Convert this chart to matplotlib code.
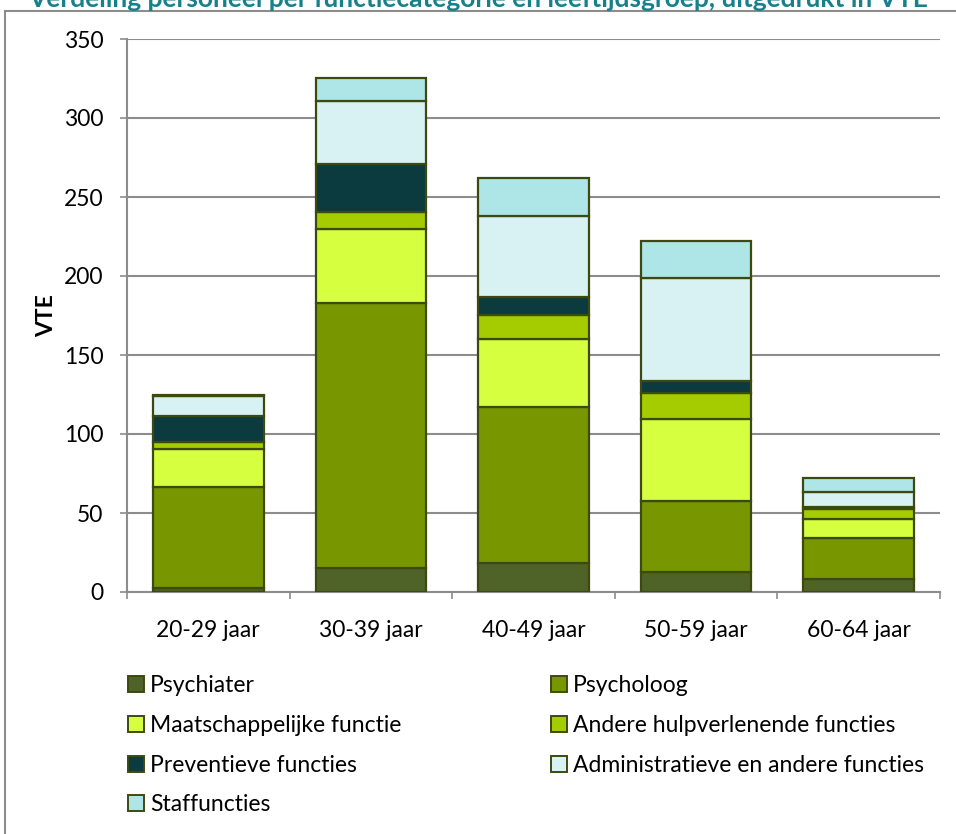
import matplotlib
matplotlib.use("Agg")
import matplotlib.pyplot as plt
from matplotlib.patches import Patch
from matplotlib.lines import Line2D
import numpy as np

plt.rcParams['font.family'] = ['Lato', 'DejaVu Sans']

categories = ["20-29 jaar", "30-39 jaar", "40-49 jaar", "50-59 jaar", "60-64 jaar"]
series_names = ["Psychiater", "Psycholoog", "Maatschappelijke functie",
                "Andere hulpverlenende functies", "Preventieve functies",
                "Administratieve en andere functies", "Staffuncties"]
psychiater = [2.7, 15.2, 18.4, 12.7, 8.0]
psycholoog = [63.9, 167.8, 98.6, 44.9, 26.0]
maatschappelijk = [23.9, 46.7, 43.0, 51.9, 12.4]
andere_hulp = [4.2, 10.7, 15.3, 16.5, 6.1]
preventief = [16.7, 30.6, 11.6, 7.5, 1.1]
administratief = [12.6, 39.7, 51.3, 65.5, 9.5]
staf = [1.0, 14.8, 24.0, 23.3, 8.9]
series_values = [psychiater, psycholoog, maatschappelijk, andere_hulp,
                 preventief, administratief, staf]
colors = ["#4F6228", "#789600", "#D6FF40", "#A4CC00", "#0B3A3F", "#D8F1F2", "#AEE5E6"]
edge = "#3C4A10"
yticks = [0, 50, 100, 150, 200, 250, 300, 350]

FS = 16.5
W, H = 956, 834
fig = plt.figure(figsize=(W/100, H/100), dpi=100)
ax = fig.add_axes([127/W, 1-592/H, (940-127)/W, (592-39)/H])

x = np.arange(len(categories))
bottom = np.zeros(len(categories))
for name, vals, c in zip(series_names, series_values, colors):
    ax.bar(x, vals, 0.68, bottom=bottom, color=c, edgecolor=edge, linewidth=1.6,
           label=name, zorder=3)
    bottom += np.array(vals)

ax.set_xlim(-0.5, len(categories)-0.5)
ax.set_ylim(0, 350)
ax.set_yticks(yticks)
ax.set_xticks(x)
ax.set_xticklabels(categories, fontsize=FS)
ax.tick_params(axis='y', labelsize=FS, length=5, color='#8C8C8C', width=1.2, pad=12)
ax.tick_params(axis='x', length=0, pad=20)
ax.set_xticks(np.arange(-0.5, len(categories)), minor=True)
ax.tick_params(axis='x', which='minor', length=5, color='#8C8C8C', width=1.2)
ax.grid(axis='y', color='#8C8C8C', linewidth=1.5, zorder=0)
for s in ['top', 'right']:
    ax.spines[s].set_visible(False)
for s in ['left', 'bottom']:
    ax.spines[s].set_color('#8C8C8C')
    ax.spines[s].set_linewidth(1.5)
ax.set_ylabel("VTE", fontsize=FS, fontweight='bold', labelpad=5)

handles = [Patch(facecolor=c, edgecolor=edge, linewidth=1.4, label=n)
           for n, c in zip(series_names, colors)]
kw = dict(loc='upper left', frameon=False, fontsize=FS, handlelength=0.7,
          handleheight=0.7, handletextpad=0.25, labelspacing=0.82,
          borderaxespad=0, borderpad=0)
col1 = [0, 2, 4, 6]
col2 = [1, 3, 5]
leg1 = fig.legend([handles[i] for i in col1], [series_names[i] for i in col1],
                  bbox_to_anchor=(128/W, 1-675/H), **kw)
leg2 = fig.legend([handles[i] for i in col2], [series_names[i] for i in col2],
                  bbox_to_anchor=(551/W, 1-675/H), **kw)

# outer chart border (top and left visible)
fig.add_artist(Line2D([5/W, 1.0], [1-11/H, 1-11/H], color='#8C8C8C', linewidth=1.5,
                      transform=fig.transFigure))
fig.add_artist(Line2D([5/W, 5/W], [0, 1-11/H], color='#8C8C8C', linewidth=1.5,
                      transform=fig.transFigure))

# title (partly cut off at the top, as in the reference)
fig.text(0.5, 1-7/H, "Verdeling personeel per functiecategorie en leeftijdsgroep, uitgedrukt in VTE",
         ha='center', va='baseline', fontsize=19, fontweight='bold', color='#17818B')

fig.savefig("out.png", dpi=100)
